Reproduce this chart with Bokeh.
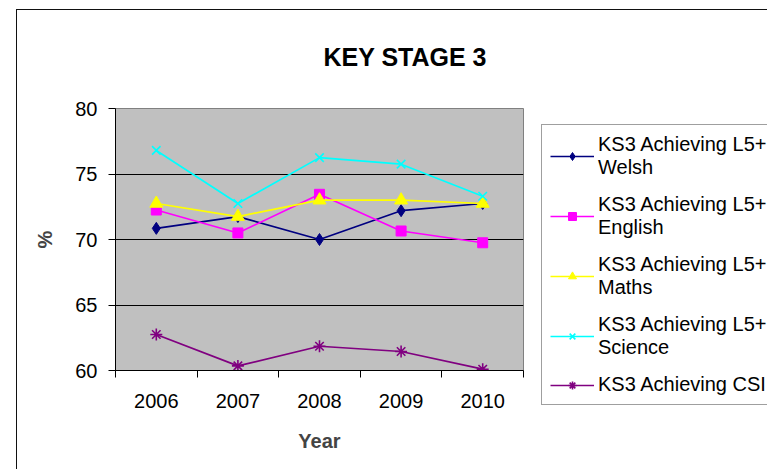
from bokeh.plotting import figure
from bokeh.models import (Range1d, LinearAxis, FixedTicker, Legend, LegendItem,
                          InlineStyleSheet)
from bokeh.embed import file_html
from bokeh.resources import INLINE

# Key Stage 3 attainment, percent of pupils
years = [2006, 2007, 2008, 2009, 2010]
welsh = [70.85, 71.75, 70.0, 72.2, 72.75]
english = [72.25, 70.5, 73.45, 70.65, 69.75]
maths = [72.75, 71.75, 73.0, 73.0, 72.75]
science = [76.8, 72.75, 76.25, 75.75, 73.3]
core = [62.75, 60.35, 61.85, 61.45, 60.1]

labels = ["KS3 Achieving L5+\nWelsh", "KS3 Achieving L5+\nEnglish",
          "KS3 Achieving L5+\nMaths", "KS3 Achieving L5+\nScience",
          "KS3 Achieving CSI"]
y_ticks = [60, 65, 70, 75, 80]
grid_ticks = [65, 70, 75]

FONT = "Liberation Sans"

# chart-area border (top and left edges) drawn over the canvas
chart_border = InlineStyleSheet(css="""
.bk-Canvas::after {
  content: "";
  position: absolute;
  left: 16px; top: 8.5px; right: 0; bottom: 0;
  border-left: 1.5px solid #111;
  border-top: 1.5px solid #111;
  pointer-events: none;
}
""")

p = figure(width=767, height=469, frame_width=408,
           output_backend="svg", toolbar_location=None,
           x_range=Range1d(years[0] - 0.5, years[-1] + 0.5), y_range=Range1d(60, 80),
           x_axis_location=None, y_axis_location="left",
           min_border_left=115, min_border_right=0,
           min_border_top=108, min_border_bottom=99)
p.stylesheets = [chart_border]

p.background_fill_color = "#C0C0C0"
p.border_fill_color = "white"
p.outline_line_color = "#808080"
p.outline_line_width = 1

# title
p.title.text = "KEY STAGE 3"
p.title.align = "left"
p.title.offset = 208
p.title.standoff = 76
p.title.text_font = FONT
p.title.text_font_size = "25px"
p.title.text_font_style = "bold"
p.title.text_color = "black"

# y axis
yax = p.yaxis[0]
yax.ticker = FixedTicker(ticks=y_ticks)
yax.major_tick_out = 7
yax.major_tick_in = 0
yax.minor_tick_line_color = None
yax.axis_line_color = "black"
yax.major_tick_line_color = "black"
yax.major_label_standoff = 11
yax.major_label_text_font = FONT
yax.major_label_text_font_size = "20px"
yax.major_label_text_color = "black"
yax.axis_label = "%"
yax.axis_label_text_font = FONT
yax.axis_label_text_font_size = "20px"
yax.axis_label_text_font_style = "bold"
yax.axis_label_standoff = 16

p.xgrid.visible = False
p.ygrid.ticker = FixedTicker(ticks=grid_ticks)
p.ygrid.grid_line_color = "black"
p.ygrid.grid_line_width = 1

# x axis: ticks on the boundaries between years, year labels centred
edges = [y - 0.5 for y in years] + [years[-1] + 0.5]
edge_axis = LinearAxis(ticker=FixedTicker(ticks=edges),
                       major_tick_out=7, major_tick_in=0,
                       minor_tick_line_color=None,
                       axis_line_color="black", major_tick_line_color="black",
                       major_label_text_font_size="1px",
                       major_label_text_alpha=0,
                       major_label_standoff=0)
p.add_layout(edge_axis, "below")

year_axis = LinearAxis(ticker=FixedTicker(ticks=years),
                       axis_line_color=None, major_tick_line_color=None,
                       minor_tick_line_color=None,
                       major_label_standoff=10,
                       major_label_text_font=FONT,
                       major_label_text_font_size="20px",
                       major_label_text_color="black",
                       axis_label="Year", axis_label_text_font=FONT,
                       axis_label_text_font_size="20px",
                       axis_label_text_font_style="bold",
                       axis_label_standoff=19)
p.add_layout(year_axis, "below")

series = [
    (welsh, "#000080", "diamond", 12, 1),
    (english, "#FF00FF", "square", 10, 1),
    (maths, "#FFFF00", "triangle", 13, 1),
    (science, "#00FFFF", "x", 12, 1.6),
    (core, "#800080", "asterisk", 12, 1.6),
]

items = []
for (vals, color, marker, size, mlw), label in zip(series, labels):
    ln = p.line(years, vals, line_color=color, line_width=1.7)
    sc = p.scatter(years, vals, marker=marker, size=size, fill_color=color,
                   line_color=color, line_width=mlw)
    items.append(LegendItem(label=label, renderers=[ln, sc]))

legend = Legend(items=items, location=(18, -35), margin=0, padding=8,
                spacing=14, glyph_width=44, glyph_height=20, label_standoff=4,
                label_text_font=FONT, label_text_font_size="20px",
                label_text_line_height=1.35, label_text_color="black",
                border_line_color="#404040", border_line_width=1,
                background_fill_color="white", background_fill_alpha=1)
p.add_layout(legend, "right")

open("out.html", "w").write(file_html(p, INLINE))
